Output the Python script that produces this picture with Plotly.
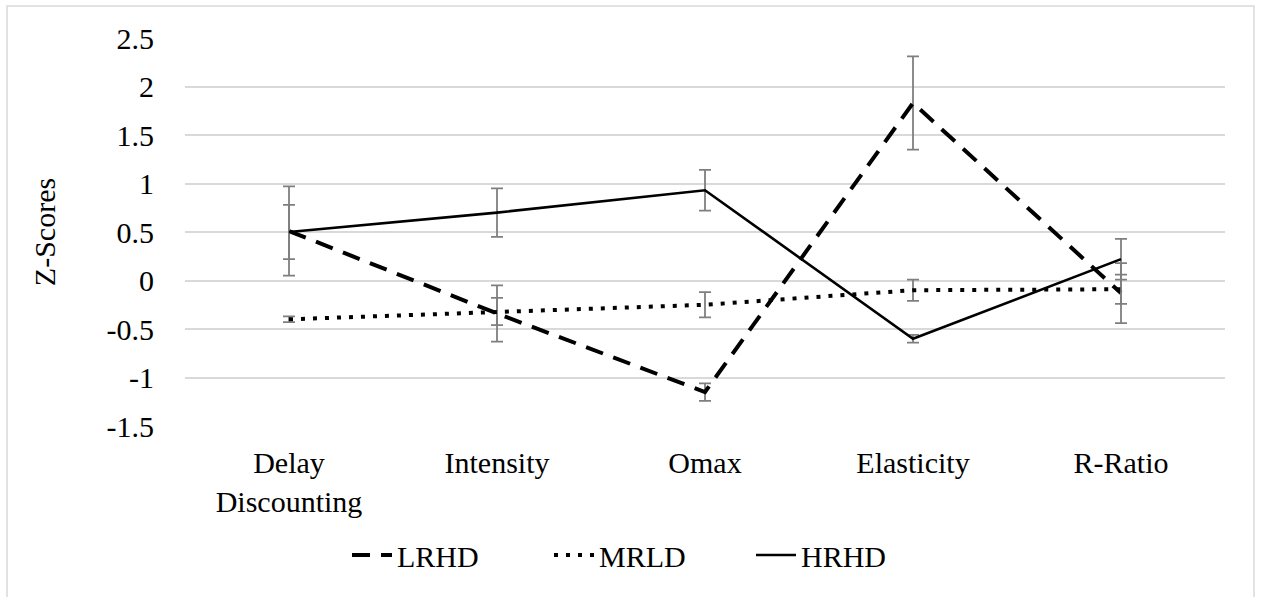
import plotly.graph_objects as go

categories = ["Delay<br>Discounting", "Intensity", "Omax", "Elasticity", "R-Ratio"]

lrhd = [0.51, -0.34, -1.15, 1.83, -0.13]
lrhd_err = [0.46, 0.29, 0.09, 0.48, 0.31]

mrld = [-0.40, -0.32, -0.25, -0.10, -0.09]
mrld_err = [0.03, 0.14, 0.13, 0.11, 0.15]

hrhd = [0.50, 0.70, 0.93, -0.60, 0.22]
hrhd_err = [0.28, 0.25, 0.21, 0.04, 0.21]

y_ticks = [2.5, 2, 1.5, 1, 0.5, 0, -0.5, -1, -1.5]

FS = 30
FONT = "Times New Roman, Liberation Serif, Tinos, serif"
ERR = dict(type="data", visible=True, color="#7f7f7f", thickness=1.8, width=6)

fig = go.Figure()
series = [
    ("LRHD", lrhd, lrhd_err, "18px,11px", 4),
    ("MRLD", mrld, mrld_err, "4px,8px", 4),
    ("HRHD", hrhd, hrhd_err, "solid", 2.6),
]
for name, vals, errs, dash, w in series:
    fig.add_trace(go.Scatter(
        x=categories, y=vals, name=name, mode="lines",
        line=dict(color="black", width=w, dash=dash),
        error_y=dict(array=errs, **ERR),
    ))

W, H = 1263, 597
L, R, T, B = 185, 38, 38, 171
pw, ph = W - L - R, H - T - B

fig.update_layout(
    width=W, height=H,
    margin=dict(l=L, r=R, t=T, b=B),
    paper_bgcolor="white", plot_bgcolor="white",
    font=dict(family=FONT, size=FS, color="black"),
    showlegend=True,
    legend=dict(orientation="h", x=(650 - L) / pw, xanchor="center",
                y=-(555 - (T + ph)) / ph, yanchor="middle",
                font=dict(family=FONT, size=FS, color="black"),
                itemwidth=40, entrywidth=147, entrywidthmode="pixels"),
    xaxis=dict(type="category", range=[-0.5, 4.5], showgrid=False,
               showline=False, zeroline=False, ticks="",
               ticklabelstandoff=16,
               tickfont=dict(family=FONT, size=FS)),
    yaxis=dict(range=[-1.5, 2.5], tickvals=y_ticks,
               ticktext=[str(v) for v in y_ticks],
               showgrid=True, gridcolor="#d9d9d9", gridwidth=1.5,
               zeroline=False, showline=False, ticks="",
               ticklabelstandoff=30,
               tickfont=dict(family=FONT, size=FS),
               title=dict(text="Z-Scores", standoff=42,
                          font=dict(family=FONT, size=FS))),
    shapes=[dict(type="rect", xref="paper", yref="paper",
                 x0=(7 - L) / pw, x1=(1254 - L) / pw,
                 y0=(T + ph - (H + 5)) / ph, y1=(T + ph - 6) / ph,
                 line=dict(color="#d9d9d9", width=1.5), layer="below")],
)

fig.write_html("out.html", config={"displayModeBar": False},
               post_script="document.body.style.margin='0';")
